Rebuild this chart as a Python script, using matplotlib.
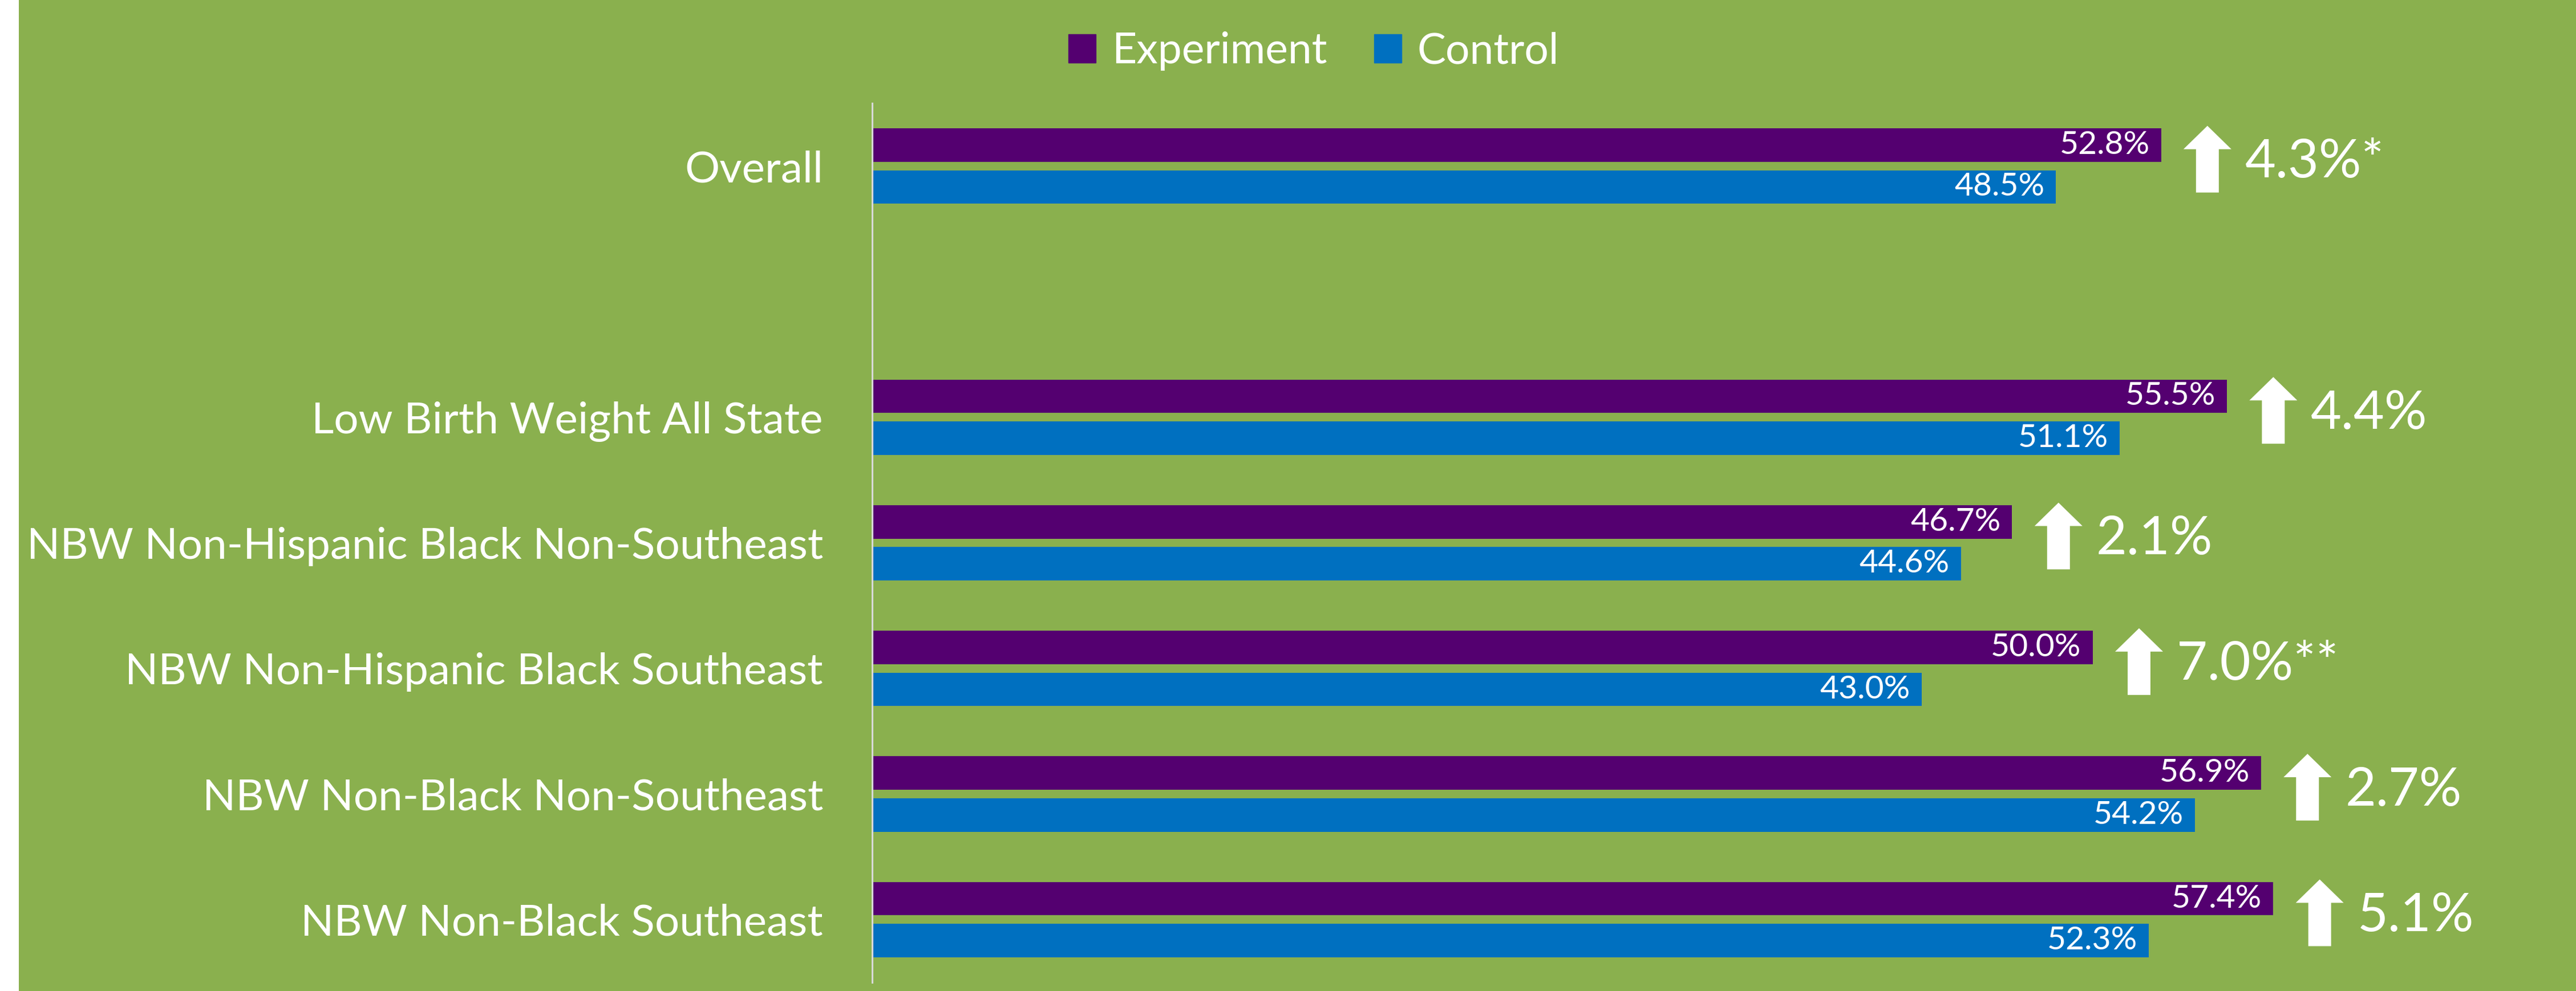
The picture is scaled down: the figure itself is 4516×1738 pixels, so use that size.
import matplotlib
matplotlib.use("Agg")
import matplotlib.pyplot as plt
from matplotlib.patches import Rectangle, Patch
import numpy as np

plt.rcParams['font.family'] = ['Lato', 'DejaVu Sans']

# datos
categorias = ["Overall", "Low Birth Weight All State",
              "NBW Non-Hispanic Black Non-Southeast", "NBW Non-Hispanic Black Southeast",
              "NBW Non-Black Non-Southeast", "NBW Non-Black Southeast"]
experimento = [52.8, 55.5, 46.7, 50.0, 56.9, 57.4]
control = [48.5, 51.1, 44.6, 43.0, 54.2, 52.3]
estrellas = ["*", "", "", "**", "", ""]

VERDE = "#8AB04E"
MORADO = "#540070"
AZUL = "#0070C0"

W, H = 4516, 1738
fig = plt.figure(figsize=(W / 100, H / 100), dpi=100, facecolor=VERDE)
# franja blanca a la izquierda
fig.patches.append(Rectangle((0, 0), 33 / W, 1, transform=fig.transFigure,
                             facecolor="white", edgecolor="none", zorder=-1))

ax_l, ax_r = 1529 / W, 1.0
ax_t, ax_b = 181 / H, 1723 / H
ax = fig.add_axes([ax_l, 1 - ax_b, ax_r - ax_l, ax_b - ax_t])
ax.set_facecolor(VERDE)

xmax = 69.8
ax.set_xlim(0, xmax)
ax.set_ylim(6.5, -0.5)
px_x = (ax_r - ax_l) * W / xmax   # pixeles por unidad en x
px_y = (ax_b - ax_t) * H / 7.0    # pixeles por unidad en y

y = np.arange(len(categorias), dtype=float)
y[1:] += 1  # hueco despues de "Overall"

alto = 0.267
off = 0.167
ax.barh(y - off, experimento, height=alto, color=MORADO, label="Experiment")
ax.barh(y + off, control, height=alto, color=AZUL, label="Control")

# etiquetas dentro de las barras
pad = 20 / px_x
for yi, e, c in zip(y, experimento, control):
    ax.text(e - pad, yi - off, f"{e:.1f}%", ha="right", va="center",
            color="white", fontsize=41)
    ax.text(c - pad, yi + off, f"{c:.1f}%", ha="right", va="center",
            color="white", fontsize=41)

# flechas y diferencias
alto_f = 117 / px_y
cabeza_h = 41 / px_y
cabeza_w = 84 / px_x
cuerpo_w = 40 / px_x
for yi, e, c, s in zip(y, experimento, control, estrellas):
    xc = e + 1.9
    yc = yi - 12 / px_y
    top = yc - alto_f / 2
    bot = yc + alto_f / 2
    base = top + cabeza_h
    xs = [xc, xc + cabeza_w / 2, xc + cuerpo_w / 2, xc + cuerpo_w / 2,
          xc - cuerpo_w / 2, xc - cuerpo_w / 2, xc - cabeza_w / 2]
    ys = [top, base, base, bot, bot, base, base]
    ax.fill(xs, ys, color="white", lw=0, zorder=3)
    ax.text(xc + 66 / px_x, yi - 6 / px_y, f"{e - c:.1f}%{s}", ha="left", va="center",
            color="white", fontsize=67)

ax.set_yticks(y)
ax.set_yticklabels(categorias, fontsize=55, color="white")
ax.tick_params(axis="y", length=0, pad=62)
ax.set_xticks([])
for sp in ["top", "right", "bottom"]:
    ax.spines[sp].set_visible(False)
ax.spines["left"].set_color("#D9D9D9")
ax.spines["left"].set_linewidth(2.2)

handles = [Patch(color=MORADO, label="Experiment"), Patch(color=AZUL, label="Control")]
fig.legend(handles=handles, loc="center", bbox_to_anchor=(0.51, 1 - 90 / H), ncol=2,
           frameon=False, fontsize=54, labelcolor="white", handlelength=0.64,
           handleheight=0.64, handletextpad=0.37, columnspacing=1.1)

fig.savefig("out.png", dpi=100, facecolor=fig.get_facecolor())
